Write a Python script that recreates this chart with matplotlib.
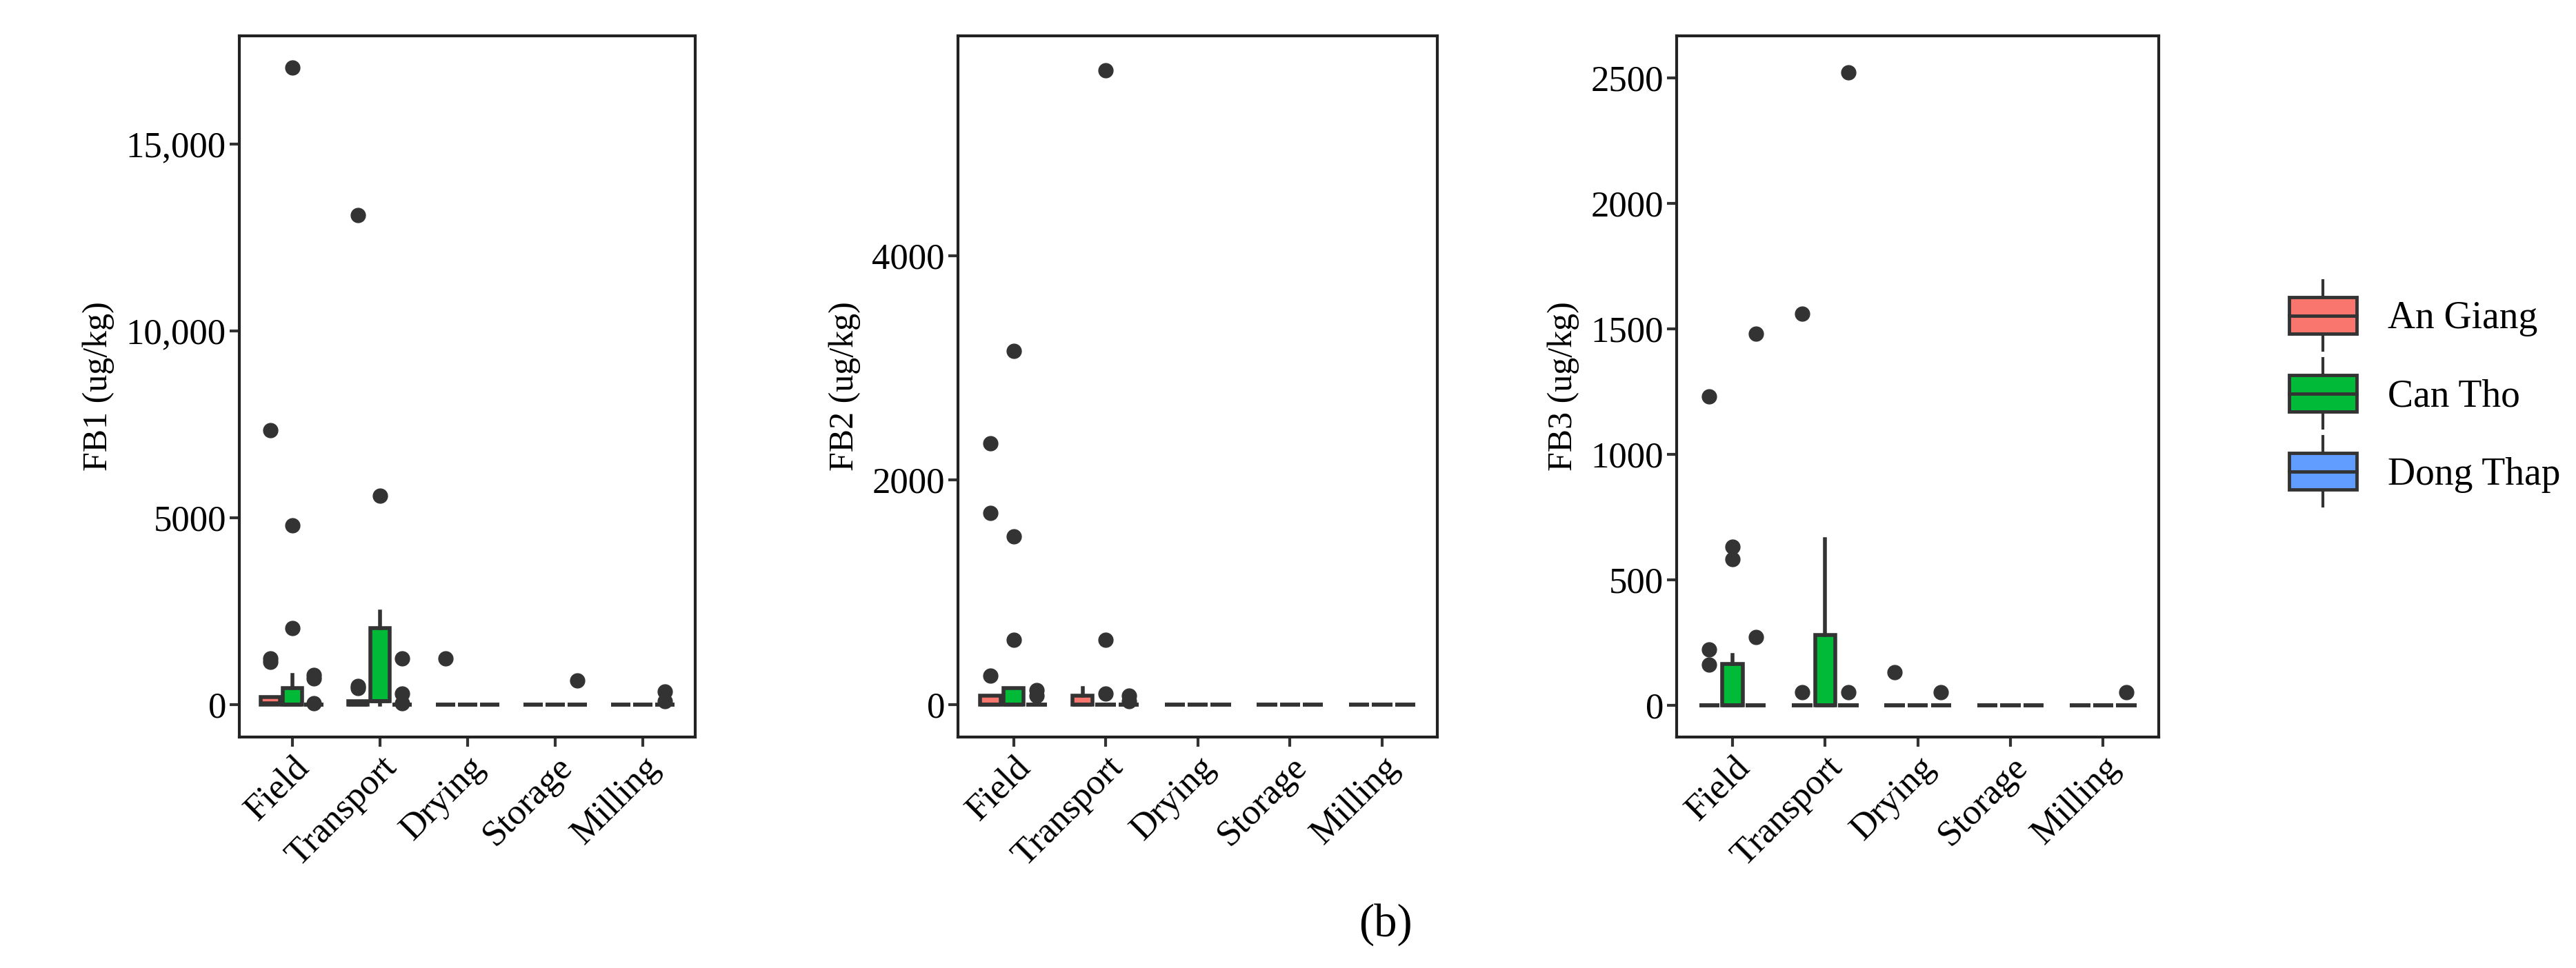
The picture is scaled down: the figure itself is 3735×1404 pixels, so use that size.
import matplotlib
matplotlib.use("Agg")
import matplotlib.pyplot as plt
from matplotlib.patches import Patch, Rectangle
from matplotlib.lines import Line2D
from matplotlib.legend_handler import HandlerBase
from matplotlib.ticker import FuncFormatter

plt.rcParams['font.family'] = ['Liberation Serif', 'DejaVu Serif']

stages = ["Field", "Transport", "Drying", "Storage", "Milling"]
provinces = ["An Giang", "Can Tho", "Dong Thap"]
colors = ["#F8766D", "#00BA38", "#619CFF"]

# (q1, median, q3, whisker_lo, whisker_hi, fliers) per stage per province
fb1_stats = [
    [(0, 50, 200, 0, 200, [7350, 1250, 1150]), (0, 0, 450, 0, 800, [17050, 4800, 2050]), (0, 0, 0, 0, 0, [800, 700, 50])],
    [(0, 0, 100, 0, 100, [13100, 500, 450]), (100, 100, 2050, 0, 2500, [5600]), (0, 0, 0, 0, 0, [1250, 300, 50])],
    [(0, 0, 0, 0, 0, [1250]), (0, 0, 0, 0, 0, []), (0, 0, 0, 0, 0, [])],
    [(0, 0, 0, 0, 0, []), (0, 0, 0, 0, 0, []), (0, 0, 0, 0, 0, [650])],
    [(0, 0, 0, 0, 0, []), (0, 0, 0, 0, 0, []), (0, 0, 0, 0, 0, [350, 100])],
]
fb2_stats = [
    [(0, 0, 80, 0, 80, [2330, 1710, 260]), (0, 0, 150, 0, 150, [3150, 1500, 580]), (0, 0, 0, 0, 0, [130, 80])],
    [(0, 0, 80, 0, 150, []), (0, 0, 0, 0, 0, [5650, 580, 100]), (0, 0, 0, 0, 0, [80, 30])],
    [(0, 0, 0, 0, 0, []), (0, 0, 0, 0, 0, []), (0, 0, 0, 0, 0, [])],
    [(0, 0, 0, 0, 0, []), (0, 0, 0, 0, 0, []), (0, 0, 0, 0, 0, [])],
    [(0, 0, 0, 0, 0, []), (0, 0, 0, 0, 0, []), (0, 0, 0, 0, 0, [])],
]
fb3_stats = [
    [(0, 0, 0, 0, 0, [1230, 220, 160]), (0, 0, 165, 0, 200, [630, 580]), (0, 0, 0, 0, 0, [1480, 270])],
    [(0, 0, 0, 0, 0, [1560, 50]), (0, 0, 280, 0, 660, []), (0, 0, 0, 0, 0, [2520, 50])],
    [(0, 0, 0, 0, 0, [130]), (0, 0, 0, 0, 0, []), (0, 0, 0, 0, 0, [50])],
    [(0, 0, 0, 0, 0, []), (0, 0, 0, 0, 0, []), (0, 0, 0, 0, 0, [])],
    [(0, 0, 0, 0, 0, []), (0, 0, 0, 0, 0, []), (0, 0, 0, 0, 0, [50])],
]

panels = [
    ("FB1 (ug/kg)", fb1_stats, (-864, 17900), [0, 5000, 10000, 15000], True),
    ("FB2 (ug/kg)", fb2_stats, (-287, 5955), [0, 2000, 4000], False),
    ("FB3 (ug/kg)", fb3_stats, (-128, 2667), [0, 500, 1000, 1500, 2000, 2500], False),
]
lefts = [0.093, 0.372, 0.651]
widths = [0.177, 0.186, 0.187]
B, H = 0.2385, 0.7245

edge = "#333333"


class BoxKey(HandlerBase):
    def create_artists(self, legend, orig_handle, xd, yd, width, height, fontsize, trans):
        fc = orig_handle.get_facecolor()
        w = width * 0.8
        x0 = -xd + (width - w) / 2
        y0 = -yd
        r = Rectangle((x0, y0), w, height, facecolor=fc, edgecolor=edge, lw=3.5, transform=trans)
        cxm = x0 + w / 2
        med = Line2D([x0, x0 + w], [y0 + height / 2] * 2, color=edge, lw=3.5, transform=trans)
        w1 = Line2D([cxm, cxm], [y0 + height, y0 + height * 1.45], color=edge, lw=3, transform=trans)
        w2 = Line2D([cxm, cxm], [y0, y0 - height * 0.45], color=edge, lw=3, transform=trans)
        return [w1, w2, r, med]


fig = plt.figure(figsize=(37.35, 14.04), dpi=100)
for (label, stats, ylim, ticks, comma), left, wd in zip(panels, lefts, widths):
    ax = fig.add_axes([left, B, wd, H])
    for i, st in enumerate(stages):
        for j, prov in enumerate(provinces):
            q1, med, q3, lo, hi, fl = stats[i][j]
            pos = i + 1 + (j - 1) * 0.25
            ax.bxp([dict(q1=q1, med=med, q3=q3, whislo=lo, whishi=hi, fliers=fl)],
                   positions=[pos], widths=0.22, patch_artist=True, showcaps=False,
                   boxprops=dict(facecolor=colors[j], edgecolor=edge, linewidth=4),
                   medianprops=dict(color=edge, linewidth=4),
                   whiskerprops=dict(color=edge, linewidth=4),
                   flierprops=dict(marker='o', markerfacecolor=edge, markeredgecolor=edge,
                                   markersize=15))
    ax.set_xlim(0.4, 5.6)
    ax.set_ylim(*ylim)
    ax.set_yticks(ticks)
    if comma:
        ax.yaxis.set_major_formatter(FuncFormatter(lambda v, p: "0" if v == 0 else (f"{int(v):,}" if v >= 10000 else f"{int(v)}")))
    ax.set_xticks(range(1, 6))
    ax.set_xticklabels(stages, rotation=45, ha='right', rotation_mode='anchor')
    ax.tick_params(labelsize=38, width=3, length=10, color=edge, pad=4)
    ax.set_ylabel(label, fontsize=36, labelpad=12)
    for s in ax.spines.values():
        s.set_linewidth(3)
        s.set_color("#222222")

handles = [Patch(facecolor=c, edgecolor=edge) for c in colors]
fig.legend(handles, provinces, loc='center left', bbox_to_anchor=(0.872, 0.592),
           fontsize=40, frameon=False, handlelength=2.2, handleheight=1.1, labelspacing=1.0,
           handletextpad=0.6, handler_map={Patch: BoxKey()})
fig.text(0.538, 0.045, "(b)", fontsize=48, ha='center', va='center')
fig.savefig("out.png", dpi=100)
